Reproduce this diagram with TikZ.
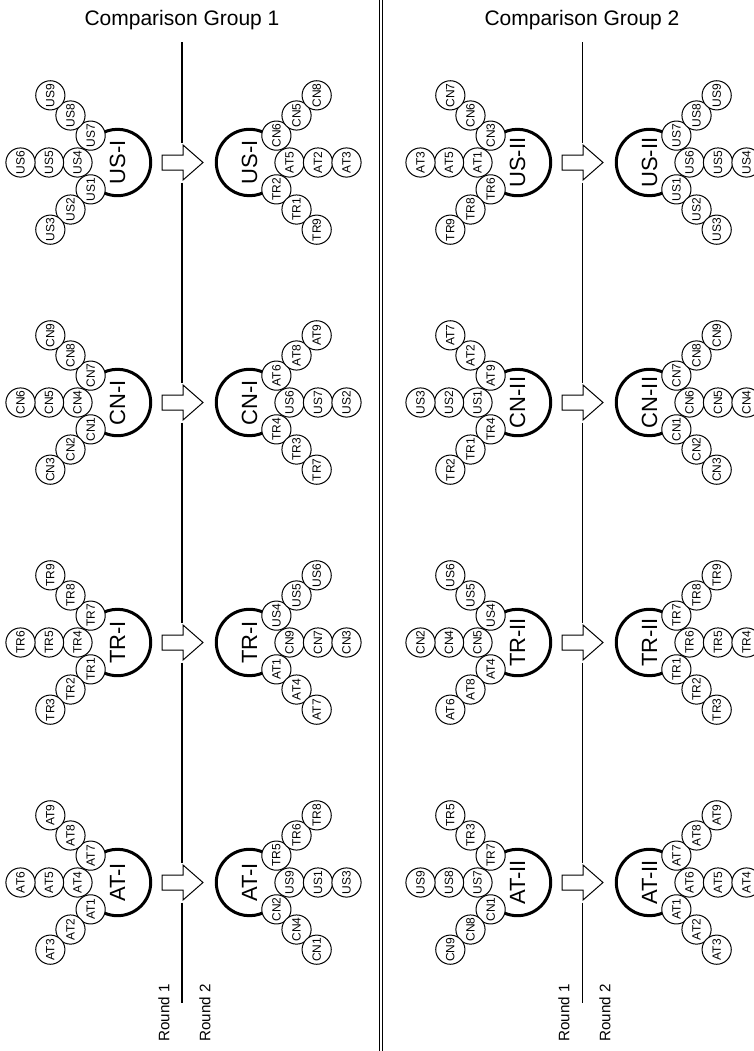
\documentclass[tikz,border=0pt]{standalone}
\usepackage{fontspec}
\setmainfont{Liberation Sans}
\usetikzlibrary{calc}

\begin{document}
\begin{tikzpicture}[x=0.5pt, y=-0.5pt,
  hub/.style={circle, minimum size=34pt, inner sep=0pt, rotate=90,
              font=\fontsize{11}{11}\selectfont},
  hubarc/.style={line width=1.5pt},
  leaf/.style={circle, draw, line width=0.5pt, fill=white, minimum size=14.6pt,
               inner sep=0pt, rotate=90, font=\fontsize{6}{6}\selectfont},
  blk/.style={draw, line width=0.5pt, fill=white},
  divider/.style={line width=0.6pt},
  rnd/.style={rotate=90, anchor=west, inner sep=0pt,
              font=\fontsize{7.6}{7.6}\selectfont},
  ttl/.style={anchor=base, inner sep=0pt, font=\fontsize{10.5}{10.5}\selectfont},
  sep/.style={line width=0.4pt}
]
  \useasboundingbox (0,0) rectangle (754,1051);
  \clip (0,0) rectangle (754,1051);

  % double rule between the two groups
  \draw[sep] (379,0) -- (379,1051);
  \draw[sep] (382,0) -- (382,1051);

  % titles, round divider and block arrows
  \foreach \p/\px/\lw in {1/0/0.7pt, 2/400/0.45pt} {
    \node[ttl] (title\p) at (\px+182, 25) {Comparison Group \p};
    \node[rnd] (rone\p) at (\px+164, 1042) {Round 1};
    \node[rnd] (rtwo\p) at (\px+205, 1042) {Round 2};
    \foreach \ya/\yb in {42/142.5, 182.5/382.5, 422.5/622.5, 662.5/862.5, 902.5/1003}
      \draw[divider, line width=\lw] (\px+182,\ya) -- (\px+182,\yb);
    \foreach \yc in {162.5, 402.5, 642.5, 882.5}
      \draw[blk] (\px+162,\yc-7.5) -- ++(21,0) -- ++(0,-10) -- ++(20,17.5)
        -- ++(-20,17.5) -- ++(0,-10) -- ++(-21,0) -- cycle;
  }

  % clusters: hub, then middle, upper and lower branches
  \foreach \hx/\hy/\side/\hname/\ua/\ub/\uc/\ma/\mb/\mc/\da/\db/\dc [count=\ci] in {
    117.5/162.5/180/US-I/US7/US8/US9/US4/US5/US6/US1/US2/US3,
    117.5/402.5/180/CN-I/CN7/CN8/CN9/CN4/CN5/CN6/CN1/CN2/CN3,
    117.5/642.5/180/TR-I/TR7/TR8/TR9/TR4/TR5/TR6/TR1/TR2/TR3,
    117.5/882.5/180/AT-I/AT7/AT8/AT9/AT4/AT5/AT6/AT1/AT2/AT3,
    249.5/162.5/0/US-I/CN6/CN5/CN8/AT5/AT2/AT3/TR2/TR1/TR9,
    249.5/402.5/0/CN-I/AT6/AT8/AT9/US6/US7/US2/TR4/TR3/TR7,
    249.5/642.5/0/TR-I/US4/US5/US6/CN9/CN7/CN3/AT1/AT4/AT7,
    249.5/882.5/0/AT-I/TR5/TR6/TR8/US9/US1/US3/CN2/CN4/CN1,
    517.5/162.5/180/US-II/CN3/CN6/CN7/AT1/AT5/AT3/TR6/TR8/TR9,
    517.5/402.5/180/CN-II/AT9/AT2/AT7/US1/US2/US3/TR4/TR1/TR2,
    517.5/642.5/180/TR-II/US4/US5/US6/CN5/CN4/CN2/AT4/AT8/AT6,
    517.5/882.5/180/AT-II/TR7/TR3/TR5/US7/US8/US9/CN1/CN8/CN9,
    649.5/162.5/0/US-II/US7/US8/US9/US6/US5/US4/US1/US2/US3,
    649.5/402.5/0/CN-II/CN7/CN8/CN9/CN6/CN5/CN4/CN1/CN2/CN3,
    649.5/642.5/0/TR-II/TR7/TR8/TR9/TR6/TR5/TR4/TR1/TR2/TR3,
    649.5/882.5/0/AT-II/AT7/AT8/AT9/AT6/AT5/AT4/AT1/AT2/AT3} {
    \pgfmathsetmacro{\up}{\side==180 ? 225 : -45}
    \pgfmathsetmacro{\dn}{\side==180 ? 135 : 45}
    \pgfmathsetmacro{\arcs}{\side==180 ? -125 : 55}
    \node[hub] (hub\ci) at (\hx,\hy) {\hname};
    \draw[hubarc] (hub\ci.center) ++(\arcs:16.6pt)
      arc[start angle=\arcs, delta angle=250, radius=16.6pt];
    \foreach \ang/\rr/\ta/\tb/\tc/\br in {\side/40/\ma/\mb/\mc/m,
                                          \up/38/\ua/\ub/\uc/u,
                                          \dn/38/\da/\db/\dc/d} {
      \foreach \k/\tx in {1/\ta, 2/\tb, 3/\tc} {
        \pgfmathsetmacro{\dist}{\rr+28.5*(\k-1)}
        \node[leaf] (leaf\ci\br\k) at ([shift={(\ang:\dist)}]hub\ci.center) {\tx};
      }
    }
  }
\end{tikzpicture}
\end{document}
